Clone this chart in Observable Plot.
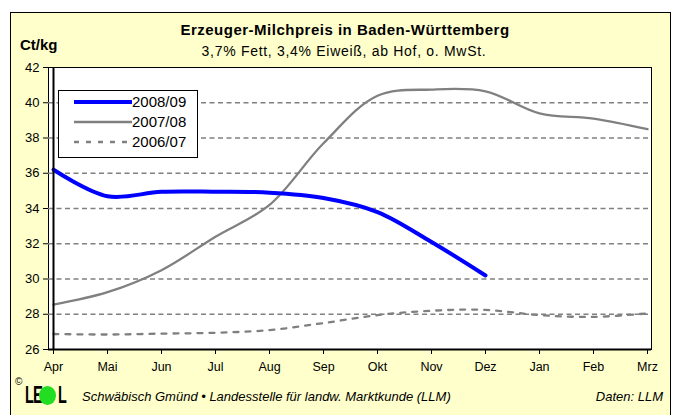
<!DOCTYPE html>
<html>
<head>
<meta charset="utf-8">
<script src="https://cdn.jsdelivr.net/npm/d3@7"></script>
<script src="https://cdn.jsdelivr.net/npm/@observablehq/plot@0.6"></script>
<style>
  html, body { margin: 0; padding: 0; background: #ffffff; }
  body { width: 678px; height: 415px; position: relative; overflow: hidden; font-family: Arial, "Liberation Sans", sans-serif; color: #000; }
  #frame { position: absolute; left: 10px; top: 12px; width: 661px; height: 420px; background: #FFFFCC; border: 1px solid #000; box-sizing: border-box; }
  #chart { position: absolute; left: 0; top: 0; }
  .t { position: absolute; white-space: nowrap; }
  #title { left: 0; width: 690px; text-align: center; top: 21px; font-size: 15px; font-weight: bold; letter-spacing: 0.5px; }
  #subtitle { left: 0; width: 688px; text-align: center; top: 43px; font-size: 14px; letter-spacing: 0.7px; }
  #unit { left: 20px; top: 36px; font-size: 15px; font-weight: bold; }
  #legend { position: absolute; left: 58px; top: 90px; width: 140px; height: 68px; background: #fff; border: 1px solid #000; box-sizing: border-box; }
  .lrow { position: absolute; left: 14px; height: 18px; font-size: 15px; line-height: 18px; }
  .lrow svg { position: absolute; left: 0; top: 0; }
  .lrow span { position: absolute; left: 59px; top: 0; }
  #copy { left: 15px; top: 376px; font-size: 10px; }
  .lg { position: absolute; top: 383px; font-size: 24px; line-height: 24px; font-weight: 900; transform-origin: 0 0; }
  #l1 { left: 25px; transform: scaleX(0.6); }
  #le { left: 33px; transform: scaleX(0.62); }
  #l2 { left: 58px; transform: scaleX(0.6); }
  #dot { position: absolute; left: 39px; top: 386px; width: 17px; height: 19px; border-radius: 50%; background: #22dd22; }
  #foot { left: 82px; top: 389px; font-size: 13px; font-style: italic; }
  #daten { right: 15px; top: 389px; font-size: 13px; font-style: italic; }
</style>
</head>
<body>
<div id="frame"></div>
<div id="chart"></div>
<div class="t" id="title">Erzeuger-Milchpreis in Baden-Württemberg</div>
<div class="t" id="subtitle">3,7% Fett, 3,4% Eiweiß, ab Hof, o. MwSt.</div>
<div class="t" id="unit">Ct/kg</div>
<div id="legend"></div>
<div class="t" id="copy">©</div>
<div class="lg" id="l1">L</div>
<div class="lg" id="le">E</div>
<div id="dot"></div>
<div class="lg" id="l2">L</div>
<div class="t" id="foot">Schwäbisch Gmünd • Landesstelle für landw. Marktkunde (LLM)</div>
<div class="t" id="daten">Daten: LLM</div>
<script>
// ---- data ----
const months = ["Apr", "Mai", "Jun", "Jul", "Aug", "Sep", "Okt", "Nov", "Dez", "Jan", "Feb", "Mrz"];
const seriesNames = ["2008/09", "2007/08", "2006/07"];
const values0809 = [36.2, 34.7, 34.95, 34.95, 34.9, 34.6, 33.8, 32.1, 30.2];
const values0708 = [28.55, 29.25, 30.5, 32.4, 34.2, 37.7, 40.4, 40.75, 40.65, 39.4, 39.1, 38.5];
const values0607 = [26.88, 26.85, 26.9, 26.95, 27.1, 27.5, 27.95, 28.2, 28.25, 27.95, 27.85, 28.05];
const yTicks = [26, 28, 30, 32, 34, 36, 38, 40, 42];
const gridValues = [28, 30, 32, 34, 36, 38, 40];

const toRows = (vals) => vals.map((v, i) => ({month: months[i], value: v}));
const d0809 = toRows(values0809);
const d0708 = toRows(values0708);
const d0607 = toRows(values0607);

const styles = {
  "2008/09": {stroke: "#0000FF", strokeWidth: 4, dash: null},
  "2007/08": {stroke: "#808080", strokeWidth: 2.3, dash: null},
  "2006/07": {stroke: "#808080", strokeWidth: 2.3, dash: "5,7"}
};

const chart = Plot.plot({
  width: 678,
  height: 415,
  marginLeft: 48,
  marginRight: 27,
  marginTop: 67,
  marginBottom: 66,
  style: {background: "transparent", fontFamily: "Arial, 'Liberation Sans', sans-serif", fontSize: "12px", color: "#000", overflow: "visible"},
  x: {type: "point", domain: months, padding: 0, label: null},
  y: {domain: [26, 42], label: null},
  marks: [
    Plot.frame({fill: "#fff", stroke: "#000", strokeWidth: 1}),
    Plot.ruleY(gridValues, {stroke: "#808080", strokeWidth: 1.3, strokeDasharray: "5,3.5"}),
    Plot.axisY({ticks: yTicks, tickSize: 5, tickPadding: 4, fontSize: 13, stroke: "#000", label: null}),
    Plot.axisX({tickSize: 5, tickPadding: 8, fontSize: 12.5, stroke: "#000", label: null}),
    Plot.line(d0607, {x: "month", y: "value", stroke: styles["2006/07"].stroke, strokeWidth: styles["2006/07"].strokeWidth, strokeDasharray: styles["2006/07"].dash, curve: "catmull-rom"}),
    Plot.line(d0708, {x: "month", y: "value", stroke: styles["2007/08"].stroke, strokeWidth: styles["2007/08"].strokeWidth, curve: "catmull-rom"}),
    Plot.line(d0809, {x: "month", y: "value", stroke: styles["2008/09"].stroke, strokeWidth: styles["2008/09"].strokeWidth, curve: "catmull-rom"}),
    Plot.ruleX([months[0]], {stroke: "#000", strokeWidth: 2}),
    Plot.ruleY([26], {stroke: "#000", strokeWidth: 2})
  ]
});
document.getElementById("chart").appendChild(chart);

// legend
const legend = document.getElementById("legend");
seriesNames.forEach((name, i) => {
  const s = styles[name];
  const row = document.createElement("div");
  row.className = "lrow";
  row.style.top = (2 + i * 20) + "px";
  const ns = "http://www.w3.org/2000/svg";
  const svg = document.createElementNS(ns, "svg");
  svg.setAttribute("width", "60");
  svg.setAttribute("height", "18");
  const ln = document.createElementNS(ns, "line");
  ln.setAttribute("x1", "1"); ln.setAttribute("x2", "59");
  ln.setAttribute("y1", "9"); ln.setAttribute("y2", "9");
  ln.setAttribute("stroke", s.stroke);
  ln.setAttribute("stroke-width", s.strokeWidth);
  if (s.dash) ln.setAttribute("stroke-dasharray", s.dash);
  svg.appendChild(ln);
  row.appendChild(svg);
  const sp = document.createElement("span");
  sp.textContent = name;
  row.appendChild(sp);
  legend.appendChild(row);
});
</script>
</body>
</html>
